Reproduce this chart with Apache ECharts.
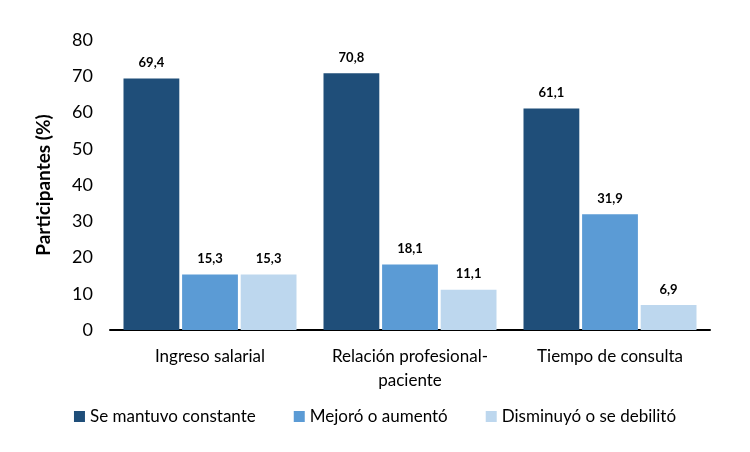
<!DOCTYPE html>
<html>
<head>
<meta charset="utf-8">
<script src="https://cdn.jsdelivr.net/npm/echarts@6/dist/echarts.min.js"></script>
<style>html,body{margin:0;padding:0;background:#fff}#c{width:750px;height:452px}</style>
</head>
<body>
<div id="c"></div>
<script>
const categories = ['Ingreso salarial', 'Relación profesional-\npaciente', 'Tiempo de consulta'];
const seriesNames = ['Se mantuvo constante', 'Mejoró o aumentó', 'Disminuyó o se debilitó'];
const constante = [69.4, 70.8, 61.1];
const mejoro = [15.3, 18.1, 31.9];
const disminuyo = [15.3, 11.1, 6.9];
const colors = ['#1F4E79', '#5B9BD5', '#BDD7EE'];
const FONT = 'Lato, "Open Sans", sans-serif';

const chart = echarts.init(document.getElementById('c'));
const mk = (name, data, color) => ({
  name, type: 'bar', data,
  itemStyle: { color },
  barGap: '5%', barCategoryGap: '13.5%',
  label: {
    show: true, position: 'top', distance: 9,
    fontFamily: FONT, fontWeight: 'bold', fontSize: 13, color: '#000',
    formatter: p => p.value.toFixed(1).replace('.', ',')
  }
});
chart.setOption({
  animation: false,
  grid: { left: 110, right: 40, top: 40, bottom: 122, containLabel: false },
  legend: {
    bottom: 22, left: 'center', itemWidth: 11, itemHeight: 11, itemGap: 38,
    icon: 'rect',
    textStyle: { fontFamily: FONT, fontSize: 17, color: '#000' },
    data: seriesNames
  },
  xAxis: {
    type: 'category', data: categories,
    axisLine: { lineStyle: { color: '#000', width: 2 } },
    axisTick: { show: false },
    axisLabel: { interval: 0, hideOverlap: false, fontFamily: FONT, fontSize: 17, color: '#000', margin: 15, lineHeight: 24 }
  },
  yAxis: {
    type: 'value', min: 0, max: 80, interval: 10,
    name: 'Participantes (%)', nameLocation: 'middle', nameGap: 57,
    nameTextStyle: { fontFamily: FONT, fontSize: 19, fontWeight: 'bold', color: '#000' },
    axisLine: { show: false }, axisTick: { show: false }, splitLine: { show: false },
    axisLabel: { fontFamily: FONT, fontSize: 18, color: '#000', margin: 17 }
  },
  series: [
    mk(seriesNames[0], constante, colors[0]),
    mk(seriesNames[1], mejoro, colors[1]),
    mk(seriesNames[2], disminuyo, colors[2])
  ]
});
</script>
</body>
</html>
